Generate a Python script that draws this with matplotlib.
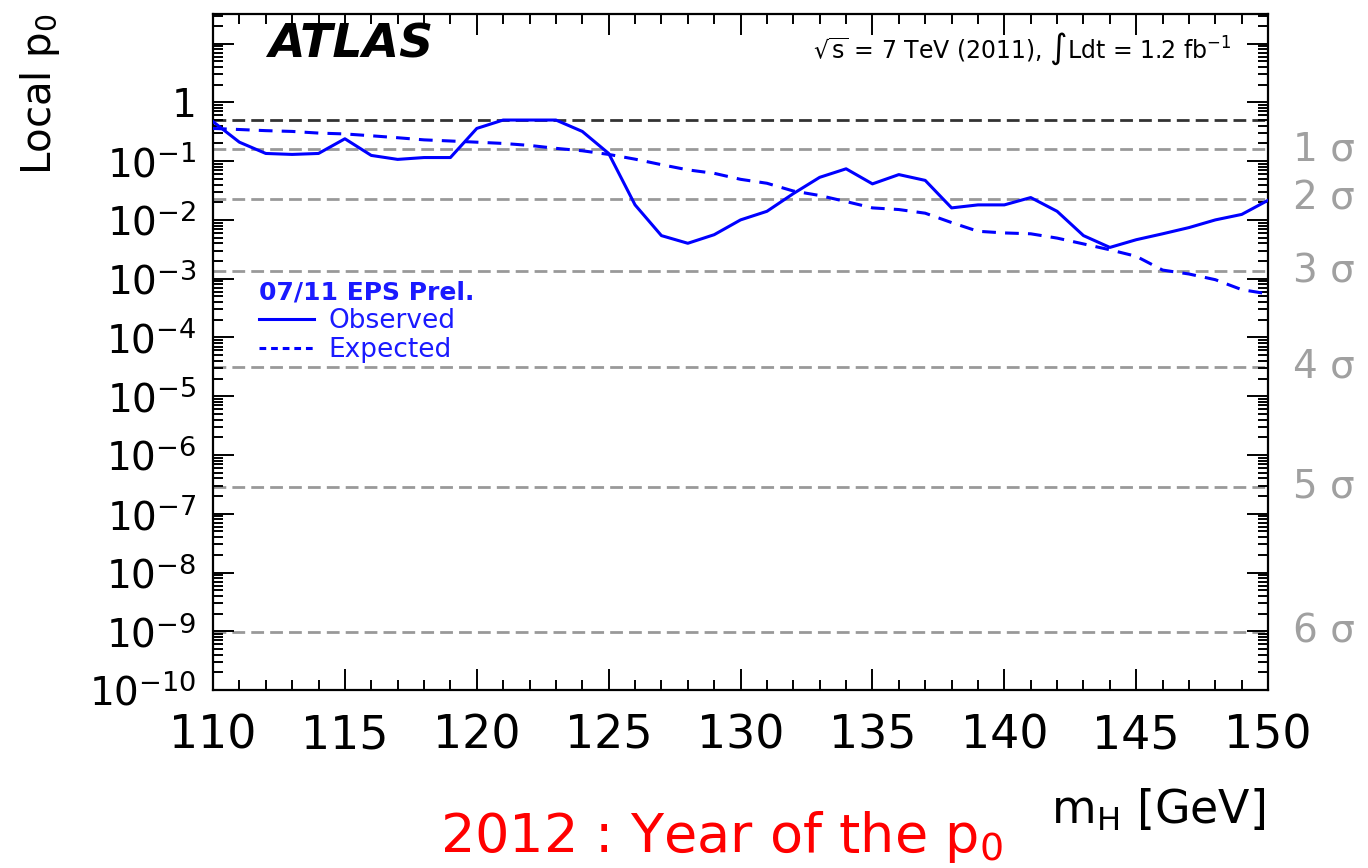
import numpy as np
import matplotlib
matplotlib.use("Agg")
import matplotlib.pyplot as plt
from matplotlib.ticker import FixedLocator, LogLocator, MultipleLocator, FuncFormatter, NullFormatter
from matplotlib.lines import Line2D

plt.rcParams['font.family'] = ['DejaVu Sans']
plt.rcParams['mathtext.fontset'] = 'dejavusans'

# Higgs mass points [GeV]
mass = list(range(110, 151))

# local p0, observed
p0_observed = [0.47, 0.21, 0.135, 0.13, 0.135, 0.24, 0.125, 0.107, 0.115, 0.115,
               0.36, 0.5, 0.5, 0.5, 0.32, 0.135, 0.018, 0.0054, 0.004, 0.0056,
               0.010, 0.014, 0.028, 0.053, 0.074, 0.041, 0.059, 0.047, 0.016, 0.018,
               0.018, 0.024, 0.014, 0.0054, 0.0034, 0.0046, 0.0058, 0.0074, 0.010, 0.0124,
               0.0216]

# local p0, expected
p0_expected = [0.36, 0.345, 0.33, 0.32, 0.30, 0.29, 0.27, 0.25, 0.23, 0.22,
               0.21, 0.20, 0.185, 0.165, 0.15, 0.13, 0.108, 0.087, 0.071, 0.062,
               0.049, 0.042, 0.031, 0.026, 0.0205, 0.016, 0.015, 0.013, 0.009, 0.0064,
               0.006, 0.0058, 0.0049, 0.0039, 0.0031, 0.0024, 0.0014, 0.0012, 0.00096, 0.00065,
               0.00055]

# significance reference lines
sigma_labels = ['1 σ', '2 σ', '3 σ', '4 σ', '5 σ', '6 σ']
sigma_p0 = [0.1587, 0.02275, 1.35e-3, 3.17e-5, 2.87e-7, 9.87e-10]

fig = plt.figure(figsize=(13.68, 8.68), dpi=100)
ax = fig.add_axes([0.1557, 0.205, 0.7713, 0.779])

grey = '#999999'
ax.axhline(0.5, color='#333333', lw=2, dashes=(4.6, 2.2), zorder=1)
for p in sigma_p0:
    ax.axhline(p, color=grey, lw=2, dashes=(4.6, 2.2), zorder=1)

ax.plot(mass, p0_observed, color='#0000ff', lw=2.2, zorder=3)
ax.plot(mass, p0_expected, color='#0000ff', lw=2.2, dashes=(4.5, 3), zorder=3)

ax.set_yscale('log')
ax.set_xlim(110, 150)
ax.set_ylim(1e-10, 32)

# axes / ticks in ROOT style
for s in ax.spines.values():
    s.set_linewidth(1.6)
ax.xaxis.set_major_locator(MultipleLocator(5))
ax.xaxis.set_minor_locator(MultipleLocator(1))
ax.yaxis.set_major_locator(FixedLocator([10.0 ** k for k in range(-10, 2)]))
ax.yaxis.set_minor_locator(LogLocator(base=10, subs=np.arange(2, 10), numticks=100))
ax.yaxis.set_minor_formatter(NullFormatter())


def ylab(v, pos):
    k = int(round(np.log10(v)))
    if k == 0:
        return '1'
    if k > 0:
        return ''
    return '$\\mathregular{10^{%d}}$' % k


ax.yaxis.set_major_formatter(FuncFormatter(ylab))
ax.tick_params(which='both', direction='in', top=True, right=True, width=1.4)
ax.tick_params(which='major', length=15)
ax.tick_params(which='minor', length=7.5)
ax.tick_params(axis='x', which='major', labelsize=33, pad=17)
ax.tick_params(axis='y', which='major', labelsize=28, pad=12)

# sigma labels on the right
for lab, p in zip(sigma_labels, sigma_p0):
    ax.text(1.024, p, lab, transform=ax.get_yaxis_transform(), color='#a0a0a0',
            fontsize=28, va='center', ha='left')

ax.text(0.052, 0.935, 'ATLAS', transform=ax.transAxes, fontsize=34,
        fontweight='bold', fontstyle='italic', va='baseline')
ax.text(0.965, 0.935, r'$\sqrt{\mathregular{s}}$ = 7 TeV (2011), $\int$Ldt = 1.2 fb$^{\mathregular{-1}}$',
        transform=ax.transAxes, fontsize=17, ha='right', va='baseline')

handles = [Line2D([], [], color='#0000ff', lw=2.2),
           Line2D([], [], color='#0000ff', lw=2.2, dashes=(2.2, 1.6))]
leg = ax.legend(handles, ['Observed', 'Expected'], loc='upper left',
                bbox_to_anchor=(0.031, 0.625), frameon=False, fontsize=19,
                labelcolor='#1a1aff', handlelength=2.1, handletextpad=0.55,
                labelspacing=0.12, borderpad=0, title='07/11 EPS Prel.',
                alignment='left',
                title_fontproperties={'weight': 'bold', 'size': 18})
leg.get_title().set_color('#1a1aff')

fig.text(0.029, 0.985, 'Local p$_{\\mathregular{0}}$', rotation=90, fontsize=29,
         ha='center', va='top')
fig.text(0.925, 0.0507, 'm$_{\\mathregular{H}}$ [GeV]', fontsize=33, ha='right',
         va='baseline')
fig.text(0.3216, 0.018, '2012 : Year of the p$_{\\mathregular{0}}$', color='#ff0000',
         fontsize=39, va='baseline')

plt.savefig('out.png', dpi=100)
